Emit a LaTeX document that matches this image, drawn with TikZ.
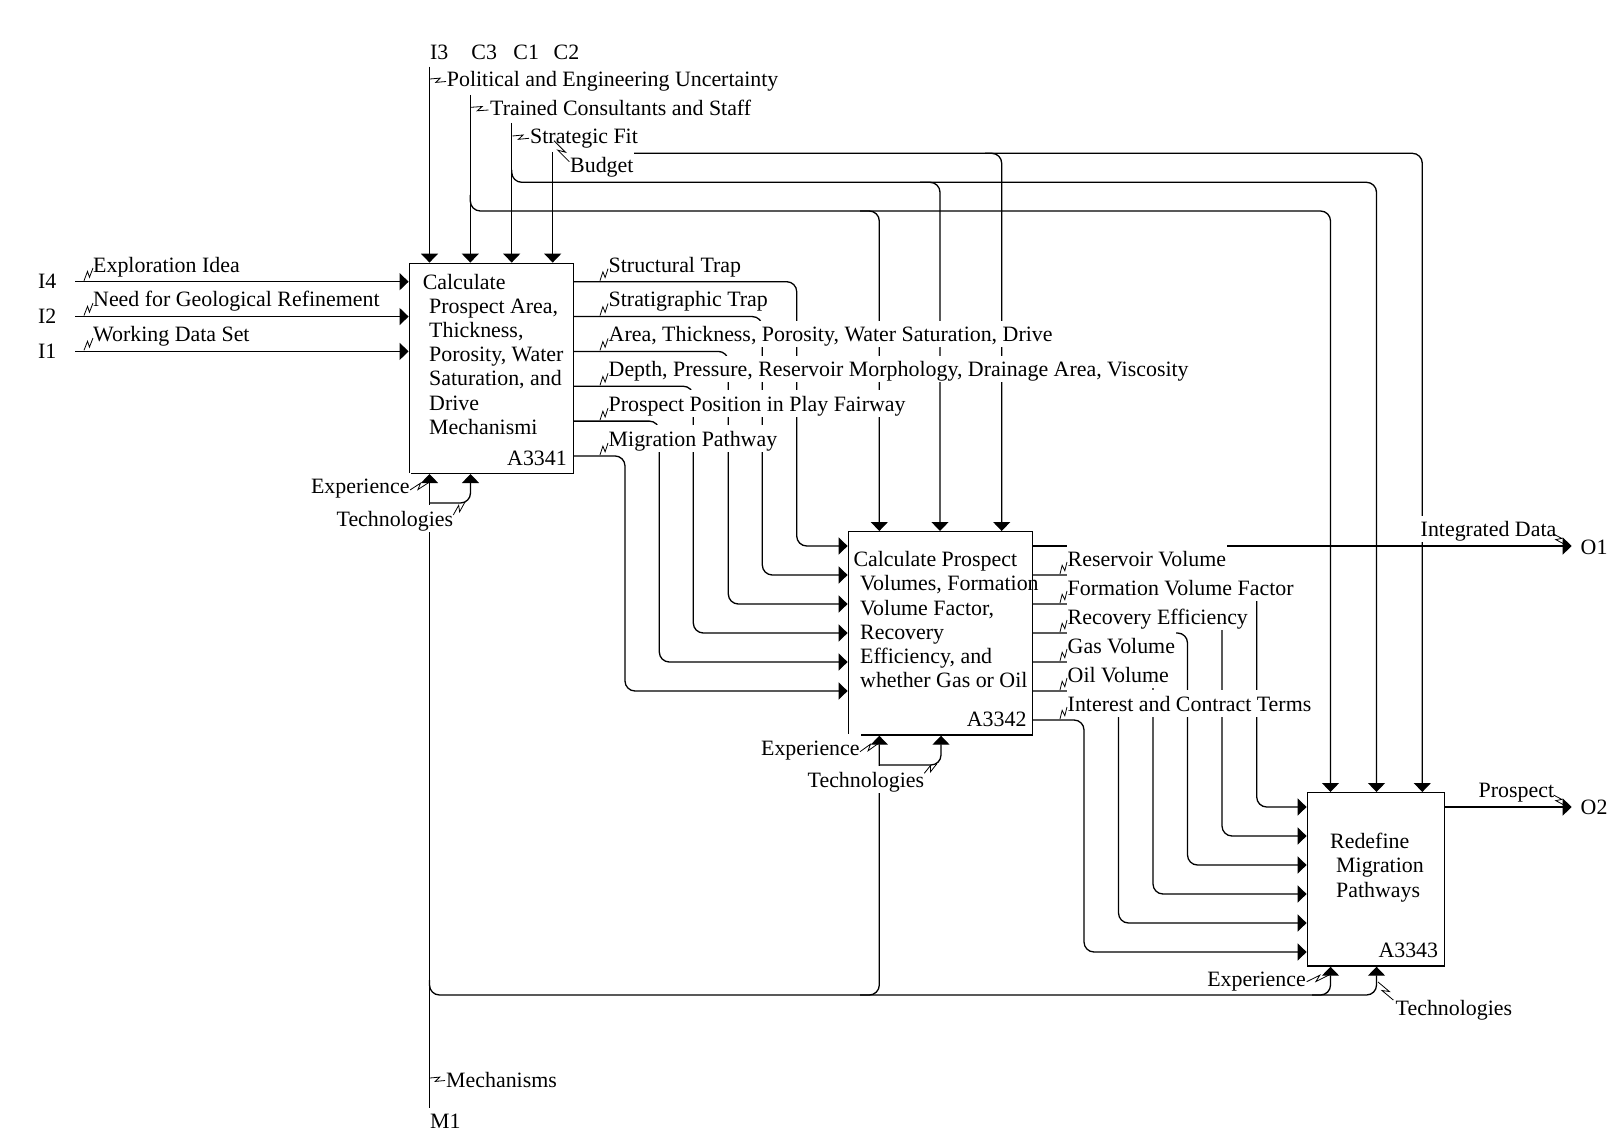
\documentclass[tikz,border=0pt]{standalone}
\usepackage{fontspec}
\setmainfont{Liberation Serif}
\usetikzlibrary{arrows.meta,calc}
\newcommand\squig[2]{%
  \path (#1) coordinate (sqS) (#2) coordinate (sqE);
  \path ($(sqS)!0.62!(sqE)$) coordinate (sqMa) ($(sqS)!0.38!(sqE)$) coordinate (sqMb);
  \draw[sqline] (sqS) -- ($(sqMa)!2.5pt!90:(sqE)$) -- ($(sqMb)!2.5pt!-90:(sqE)$) -- (sqE);}
\begin{document}
\begin{tikzpicture}[x=1pt,y=-1pt,
  every node/.style={font=\fontsize{21.9pt}{24.2pt}\selectfont},
  lab/.style={fill=white, inner xsep=1pt, inner ysep=0.5pt, text height=20.5pt, text depth=5pt, anchor=base west},
  labE/.style={lab, anchor=base east},
  box/.style={draw, line width=1.4pt, inner sep=0pt},
  boxtxt/.style={anchor=north west, align=left, inner sep=0pt},
  idtxt/.style={anchor=base east, inner sep=0pt},
  ln/.style={line width=1.3pt},
  arr/.style={ln, -{Triangle[length=9pt,width=17pt]}},
  rc/.style={rounded corners=10pt},
  sqline/.style={line width=0.8pt}]
\fill[white] (0,0) rectangle (1608,1134);
\useasboundingbox (0,0) rectangle (1608,1134);

% ---------- boxes ----------
\node[box, minimum width=164pt, minimum height=210pt] (A1) at (491.3,368.3) {};
\node[box, minimum width=184pt, minimum height=203.3pt] (A2) at (940.3,633.35) {};
\node[box, minimum width=137pt, minimum height=173.3pt] (A3) at (1375.8,879.35) {};

\node[boxtxt] (A1t) at (422.6,273.7) {Calculate\\\hspace*{6.4pt}Prospect Area,\\\hspace*{6.4pt}Thickness,\\\hspace*{6.4pt}Porosity, Water\\\hspace*{6.4pt}Saturation, and\\\hspace*{6.4pt}Drive\\\hspace*{6.4pt}Mechanismi};
\node[idtxt] (A1id) at (567,465.3) {A3341};
\node[boxtxt] (A2t) at (853.3,551.3) {Calculate Prospect\\\hspace*{6.7pt}Volumes, Formation\\\hspace*{6.7pt}Volume Factor,\\\hspace*{6.7pt}Recovery\\\hspace*{6.7pt}Efficiency, and\\\hspace*{6.7pt}whether Gas or Oil};
\node[idtxt] (A2id) at (1026.7,726) {A3342};
\node[boxtxt] (A3t) at (1330,833) {Redefine\\\hspace*{6pt}Migration\\\hspace*{6pt}Pathways};
\node[idtxt] (A3id) at (1438.3,957.7) {A3343};

% ---------- boundary coordinates ----------
\coordinate (I3s) at (429.5,66.7);
\coordinate (C3s) at (470.3,95);
\coordinate (C1s) at (511.7,123);
\coordinate (C2s) at (552.7,152);
\coordinate (c2h) at (634,153.3);
\coordinate (I4s) at (75,281.7);
\coordinate (I2s) at (75,316.55);
\coordinate (I1s) at (75,351.4);
\coordinate (O1t) at (1571.7,546);
\coordinate (O2t) at (1571.7,807);
\coordinate (M1s) at (429.5,1108);

% ---------- controls ----------
\draw[arr] (I3s) -- (I3s |- A1.north);
\draw[arr] (C3s) -- (C3s |- A1.north);
\draw[arr] (C1s) -- (C1s |- A1.north);
\draw[arr] (C2s) -- (C2s |- A1.north);
\draw[arr,rc] (470.3,195) -- (470.3,211) -- (1330.5,211) -- (1330.5,0 |- A3.north);
\draw[arr,rc] (860,211) -- (879.3,211) -- (879.3,0 |- A2.north);
\draw[arr,rc] (511.7,170) -- (511.7,182.3) -- (1376.5,182.3) -- (1376.5,0 |- A3.north);
\draw[arr,rc] (920,182.3) -- (940,182.3) -- (940,0 |- A2.north);
\draw[arr,rc] (c2h) -- (1422.3,153.3) -- (1422.3,0 |- A3.north);
\draw[arr,rc] (985,153.3) -- (1001.7,153.3) -- (1001.7,0 |- A2.north);

% ---------- inputs ----------
\draw[arr] (I4s) -- (I4s -| A1.west);
\draw[arr] (I2s) -- (I2s -| A1.west);
\draw[arr] (I1s) -- (I1s -| A1.west);

% ---------- A1 -> A2 ----------
\foreach \yo/\xv/\yi in {281.7/796.7/546, 316.55/762.3/575, 351.4/728.3/604, 386.25/693.3/633, 421.1/659.3/662, 455.95/625/691}
  \draw[arr,rc] (A1.east |- 0,\yo) -| (\xv,\yi) -- (A2.west |- 0,\yi);

% ---------- A2 -> A3 ----------
\foreach \yo/\xv/\yi in {575/1256.7/807, 604/1222/836, 633/1187.5/865, 662/1153/894, 691/1118.5/923, 720/1084/952}
  \draw[arr,rc] (A2.east |- 0,\yo) -| (\xv,\yi) -- (A3.west |- 0,\yi);

% ---------- outputs ----------
\draw[arr] (A2.east |- O1t) -- (O1t);
\draw[arr] (A3.east |- O2t) -- (O2t);

% ---------- mechanisms ----------
\draw[arr] (M1s) -- (M1s |- A1.south);
\draw[arr,rc] (429.5,503) -- (470.5,503) -- (470.5,0 |- A1.south);
\draw[arr,rc] (429.5,980) -- (429.5,995) -- (1376.5,995) -- (1376.5,0 |- A3.south);
\draw[arr,rc] (860,995) -- (879.3,995) -- (879.3,0 |- A2.south);
\draw[arr,rc] (879.3,765) -- (941,765) -- (941,0 |- A2.south);
\draw[arr,rc] (1312,995) -- (1330.5,995) -- (1330.5,0 |- A3.south);

% ---------- labels ----------
\node[lab] (lI3) at (429,59.7) {I3};
\node[lab] (lC3) at (470.2,59.7) {C3};
\node[lab] (lC1) at (512.2,59.7) {C1};
\node[lab] (lC2) at (552.5,59.7) {C2};
\node[lab] (lPol) at (445.7,87) {Political and Engineering Uncertainty};
\node[lab] (lTra) at (489,116) {Trained Consultants and Staff};
\node[lab] (lStr) at (529,144) {Strategic Fit};
\node[lab] (lBud) at (569,172.5) {Budget};

\node[lab] (lI4) at (37,288.7) {I4};
\node[lab] (lI2) at (37,323.5) {I2};
\node[lab] (lI1) at (37,358.4) {I1};
\node[lab] (lExp) at (92,272) {Exploration Idea};
\node[lab] (lNeed) at (92,306.85) {Need for Geological Refinement};
\node[lab] (lWork) at (92,341.7) {Working Data Set};

\node[lab] (o11) at (607.5,272) {Structural Trap};
\node[lab] (o12) at (607.5,306.85) {Stratigraphic Trap};
\node[lab] (o13) at (607.5,341.7) {Area, Thickness, Porosity, Water Saturation, Drive};
\node[lab] (o14) at (607.5,376.55) {Depth, Pressure, Reservoir Morphology, Drainage Area, Viscosity};
\node[lab] (o15) at (607.5,411.4) {Prospect Position in Play Fairway};
\node[lab] (o16) at (607.5,446.25) {Migration Pathway};

\node[lab] (o21) at (1066.5,566.3) {Reservoir Volume};
\node[lab] (o22) at (1066.5,595.3) {Formation Volume Factor};
\node[lab] (o23) at (1066.5,624.3) {Recovery Efficiency};
\node[lab] (o24) at (1066.5,653.3) {Gas Volume};
\node[lab] (o25) at (1066.5,682.3) {Oil Volume};
\node[lab] (o26) at (1066.5,711.3) {Interest and Contract Terms};

\node[lab] (lInt) at (1419.5,536.6) {Integrated Data};
\node[lab] (lO1) at (1579.5,554) {O1};
\node[lab] (lPro) at (1477.5,797.7) {Prospect};
\node[lab] (lO2) at (1579.5,814) {O2};

\node[labE] (m1e) at (410.8,493.7) {Experience};
\node[labE] (m1t) at (454.3,526) {Technologies};
\node[labE] (m2e) at (860.8,755.3) {Experience};
\node[labE] (m2t) at (925.3,787) {Technologies};
\node[labE] (m3e) at (1307,986.3) {Experience};
\node[lab] (m3t) at (1394.5,1015) {Technologies};
\node[lab] (lMech) at (445,1087) {Mechanisms};
\node[lab] (lM1) at (429,1128.7) {M1};

% ---------- squiggles ----------
\squig{430,79}{446,81.5}
\squig{471,107.3}{488.5,110}
\squig{512.5,136}{529,138.3}
\squig{554,140.7}{569.3,161.7}
\squig{84,280.7}{93,268}
\squig{84,315.5}{93,303}
\squig{84,350.3}{93,338}
\foreach \y in {281.7,316.55,351.4,386.25,421.1,455.95}
  {\squig{600,\y-1}{608,\y-13}}
\foreach \y in {575,604,633,662,691,720}
  {\squig{1060,\y-1}{1067,\y-13}}
\squig{1553.5,534}{1564,544}
\squig{1553.5,795}{1564,805}
\squig{410,490}{428.5,482.7}
\squig{453.3,515}{465,502}
\squig{860,751.7}{878.5,743.3}
\squig{924.3,773.3}{936.7,764}
\squig{1306.7,981.7}{1329,975}
\squig{1378,982}{1393.3,1000}
\squig{430,1078}{445,1080.5}
\end{tikzpicture}
\end{document}
